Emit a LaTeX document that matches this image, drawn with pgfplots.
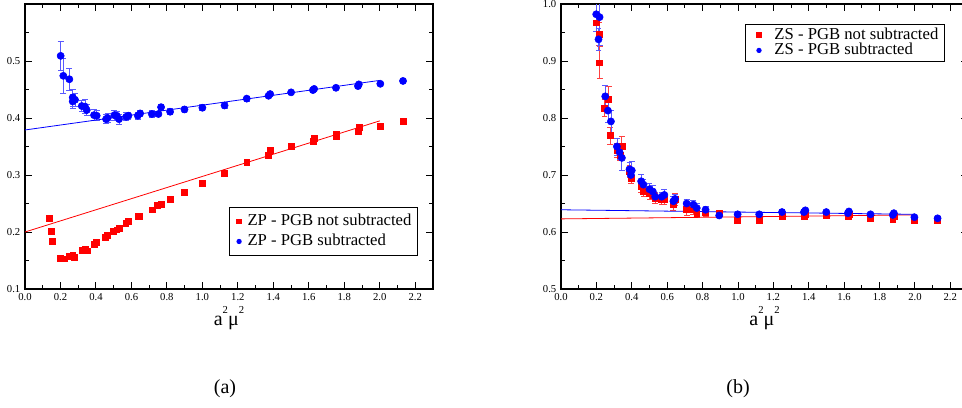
\documentclass[border=0pt]{standalone}
\usepackage{fontspec}
\setmainfont{Liberation Serif}
\usepackage{pgfplots}
\usepackage{pgfplotstable}
\pgfplotsset{compat=1.18}

\pgfplotstableread{
x y e
0.201 0.509 0.025
0.216 0.474 0.030
0.250 0.468 0.019
0.269 0.436 0.015
0.269 0.429 0.012
0.282 0.432 0.012
0.320 0.421 0.010
0.338 0.420 0.012
0.348 0.414 0.010
0.389 0.405 0.010
0.404 0.404 0.009
0.457 0.398 0.008
0.466 0.400 0.008
0.504 0.405 0.009
0.517 0.404 0.008
0.530 0.398 0.009
0.570 0.402 0.007
0.583 0.404 0.006
0.636 0.404 0.006
0.649 0.408 0.006
0.715 0.407 0.006
0.752 0.407 0.005
0.767 0.419 0.005
0.818 0.411 0.005
0.899 0.415 0.005
1.000 0.418 0.005
1.125 0.422 0.005
1.250 0.434 0.004
1.373 0.439 0.003
1.382 0.442 0.003
1.500 0.445 0.003
1.623 0.449 0.003
1.630 0.451 0.003
1.753 0.453 0.003
1.877 0.456 0.003
1.882 0.459 0.003
2.003 0.460 0.002
2.131 0.465 0.002
}\zpsub

\pgfplotstableread{
x y e
0.135 0.224 0.002
0.147 0.201 0.002
0.154 0.184 0.002
0.201 0.154 0.002
0.220 0.153 0.002
0.250 0.157 0.002
0.269 0.159 0.002
0.276 0.156 0.002
0.320 0.168 0.002
0.338 0.170 0.002
0.352 0.167 0.002
0.389 0.178 0.002
0.404 0.182 0.002
0.451 0.191 0.002
0.466 0.194 0.002
0.498 0.202 0.002
0.517 0.204 0.002
0.530 0.207 0.002
0.568 0.216 0.002
0.583 0.219 0.002
0.636 0.227 0.002
0.645 0.228 0.002
0.715 0.239 0.002
0.748 0.247 0.002
0.767 0.249 0.002
0.818 0.258 0.002
0.899 0.269 0.002
1.000 0.286 0.002
1.125 0.303 0.003
1.250 0.322 0.003
1.373 0.335 0.003
1.382 0.344 0.003
1.500 0.350 0.003
1.623 0.359 0.003
1.630 0.365 0.003
1.753 0.367 0.003
1.753 0.372 0.003
1.877 0.376 0.003
1.882 0.383 0.003
2.003 0.386 0.002
2.131 0.395 0.002
}\zpnot

\pgfplotstableread{
x y e
0.199 0.982 0.030
0.218 0.977 0.050
0.212 0.938 0.020
0.250 0.838 0.020
0.265 0.813 0.020
0.282 0.794 0.020
0.316 0.750 0.015
0.331 0.740 0.012
0.344 0.730 0.022
0.387 0.710 0.012
0.400 0.708 0.015
0.395 0.700 0.010
0.453 0.689 0.012
0.466 0.683 0.010
0.500 0.675 0.010
0.519 0.671 0.010
0.532 0.662 0.008
0.569 0.662 0.008
0.584 0.665 0.010
0.635 0.654 0.008
0.644 0.658 0.008
0.710 0.650 0.008
0.748 0.648 0.008
0.767 0.642 0.008
0.817 0.639 0.006
0.894 0.629 0.004
0.998 0.631 0.004
1.120 0.631 0.004
1.249 0.635 0.004
1.373 0.635 0.004
1.381 0.638 0.004
1.499 0.635 0.003
1.621 0.633 0.003
1.627 0.636 0.003
1.749 0.631 0.003
1.875 0.630 0.003
1.881 0.633 0.003
1.997 0.626 0.003
2.128 0.624 0.003
}\zssub

\pgfplotstableread{
x y e
0.199 0.967 0.015
0.216 0.947 0.020
0.218 0.897 0.028
0.246 0.817 0.015
0.269 0.833 0.022
0.278 0.769 0.015
0.316 0.743 0.012
0.344 0.750 0.018
0.334 0.735 0.010
0.387 0.706 0.010
0.395 0.694 0.008
0.453 0.680 0.010
0.466 0.671 0.008
0.500 0.668 0.010
0.519 0.665 0.008
0.532 0.659 0.008
0.569 0.657 0.008
0.584 0.658 0.010
0.635 0.648 0.010
0.644 0.657 0.010
0.710 0.640 0.010
0.748 0.639 0.008
0.767 0.633 0.008
0.817 0.634 0.006
0.894 0.633 0.005
0.998 0.621 0.004
1.120 0.621 0.004
1.249 0.628 0.004
1.373 0.628 0.004
1.381 0.631 0.004
1.499 0.630 0.003
1.621 0.628 0.003
1.627 0.631 0.003
1.749 0.624 0.003
1.875 0.623 0.003
1.881 0.627 0.003
1.997 0.620 0.003
2.128 0.620 0.003
}\zsnot

\newcommand{\supt}{\raisebox{9pt}{\fontsize{8}{8}\selectfont 2}}

\pgfplotsset{
  grace/.style={
    scale only axis,
    anchor=south west,
    height=213.75pt,
    xmin=0, xmax=2.3,
    xtick={0,0.2,0.4,0.6,0.8,1.0,1.2,1.4,1.6,1.8,2.0,2.2},
    minor xtick={0.1,0.3,0.5,0.7,0.9,1.1,1.3,1.5,1.7,1.9,2.1},
    axis line style={line width=0.9pt},
    every tick/.style={line width=0.7pt, black},
    major tick length=5pt, minor tick length=3pt,
    /pgf/number format/assume math mode=true,
    ticklabel style={font=\fontsize{8}{8}\selectfont},
    xticklabel style={/pgf/number format/.cd, fixed, fixed zerofill, precision=1},
    yticklabel style={/pgf/number format/.cd, fixed, fixed zerofill, precision=1},
    xlabel={\fontsize{15}{15}\selectfont a\supt μ\supt},
    xlabel style={at={(axis description cs:0.5,0)}, anchor=base, yshift=-27pt},
    legend cell align=left,
    legend style={font=\fontsize{12.5}{14}\selectfont, draw=black, line width=0.7pt,
      nodes={inner ysep=0pt, inner xsep=0pt, text height=9pt, text depth=3pt, line width=0.4pt},
      inner xsep=4.5pt},
  },
  leftlegimg/.style={
    legend image code/.code={\path (0pt,0pt) (8.5pt,0pt); \draw[##1,/tikz/mark size=1.6pt] plot coordinates {(2.5pt,0pt)};}},
  rightlegimg/.style={
    legend image code/.code={\path (0pt,0pt) (16.5pt,0pt); \draw[##1,/tikz/mark size=1.6pt] plot coordinates {(5.25pt,0pt)};}},
  redpts/.style={only marks, mark=square*, mark size=2.2pt, color=red,
    error bars/.cd, y dir=both, y explicit,
    error bar style={line width=0.6pt, red!75!white},
    error mark options={rotate=90, mark size=2.2pt, line width=0.6pt, red!75!white}},
  bluepts/.style={only marks, mark=*, mark size=2.7pt, color=blue,
    error bars/.cd, y dir=both, y explicit,
    error bar style={line width=0.6pt, blue!65!white},
    error mark options={rotate=90, mark size=2.2pt, line width=0.6pt, blue!65!white}},
}

\begin{document}
\begin{tikzpicture}[x=1pt,y=1pt]
\begin{axis}[grace, leftlegimg, at={(18.75pt,88.5pt)}, width=306pt,
  ymin=0.1, ymax=0.6,
  ytick={0.1,0.2,0.3,0.4,0.5},
  minor ytick={0.15,0.25,0.35,0.45,0.55},
  legend style={at={(0.963,0.116)}, anchor=south east, row sep=3pt, inner ysep=4.5pt}]
\addplot[redpts] table[x=x,y=y,y error=e] {\zpnot};
\addlegendentry{ZP - PGB not subtracted}
\addplot[bluepts] table[x=x,y=y,y error=e] {\zpsub};
\addlegendentry{ZP - PGB subtracted}
\addplot[red, line width=0.6pt, forget plot] coordinates {(0,0.200) (2.0,0.395)};
\addplot[blue, line width=0.6pt, forget plot] coordinates {(0,0.379) (2.0,0.466)};
\end{axis}

\begin{axis}[grace, rightlegimg, at={(420.75pt,88.5pt)}, width=305.25pt,
  ymin=0.5, ymax=1.0,
  ytick={0.5,0.6,0.7,0.8,0.9,1.0},
  minor ytick={0.55,0.65,0.75,0.85,0.95},
  legend style={at={(0.943,0.930)}, anchor=north east, row sep=-0.5pt, inner ysep=2pt}]
\addplot[redpts] table[x=x,y=y,y error=e] {\zsnot};
\addlegendentry{ZS - PGB not subtracted}
\addplot[bluepts] table[x=x,y=y,y error=e] {\zssub};
\addlegendentry{ZS - PGB subtracted}
\addplot[red, line width=0.6pt, forget plot] coordinates {(0,0.623) (2.0,0.630)};
\addplot[blue, line width=0.6pt, forget plot] coordinates {(0,0.639) (2.0,0.631)};
\end{axis}

\node[font=\fontsize{15}{15}\selectfont] at (168.75pt,13.5pt) {(a)};
\node[font=\fontsize{15}{15}\selectfont] at (553.5pt,13.5pt) {(b)};

\pgfresetboundingbox
\useasboundingbox (0pt,0pt) rectangle (721.5pt,305.25pt);
\end{tikzpicture}
\end{document}
